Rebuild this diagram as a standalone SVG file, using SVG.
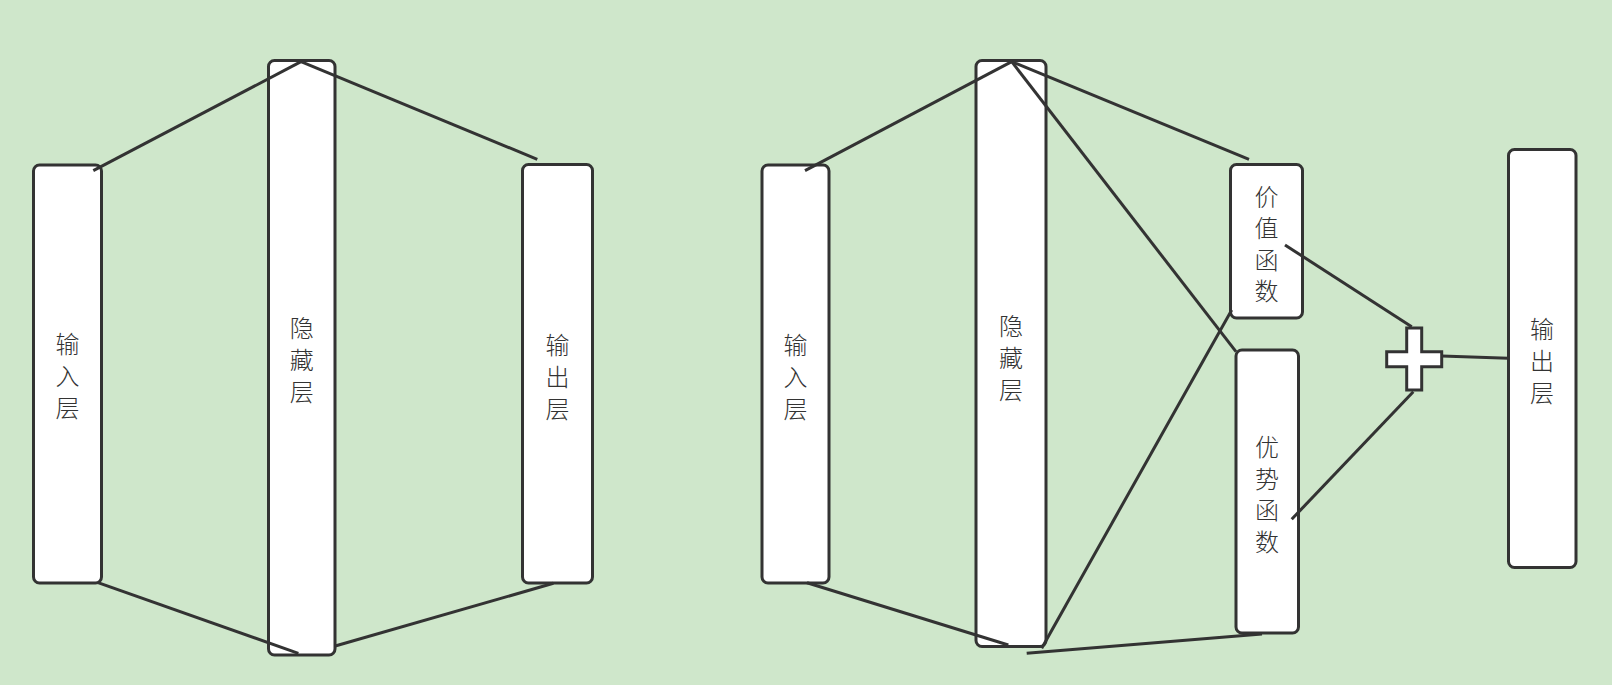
<svg xmlns="http://www.w3.org/2000/svg" width="1612" height="685" viewBox="0 0 1612 685">
<style>
.box{fill:#ffffff;stroke:#333333;stroke-width:3}
.lbl{font-family:"Noto Sans CJK SC","Noto Sans",sans-serif;font-size:24px;font-weight:300;fill:#333333;text-anchor:middle;dominant-baseline:central}
.ln{stroke:#333333;stroke-width:3;fill:none;stroke-linecap:butt}
</style>
<rect x="0" y="0" width="1612" height="685" fill="#cfe7cb"/>
<g id="l-input"><rect class="box" x="33.5" y="165" width="68" height="418" rx="6"/>
<text class="lbl"><tspan x="67.5" y="342">输</tspan><tspan x="67.5" y="374">入</tspan><tspan x="67.5" y="406">层</tspan></text></g>
<g id="l-hidden"><rect class="box" x="268.5" y="60.5" width="66.5" height="594.5" rx="6"/>
<text class="lbl"><tspan x="301.7" y="326">隐</tspan><tspan x="301.7" y="358">藏</tspan><tspan x="301.7" y="390">层</tspan></text></g>
<g id="l-output"><rect class="box" x="522.5" y="164.5" width="70" height="418.5" rx="6"/>
<text class="lbl"><tspan x="557.5" y="343">输</tspan><tspan x="557.5" y="375">出</tspan><tspan x="557.5" y="407">层</tspan></text></g>
<g id="r-input"><rect class="box" x="762" y="165" width="67" height="418" rx="6"/>
<text class="lbl"><tspan x="795.5" y="343">输</tspan><tspan x="795.5" y="375">入</tspan><tspan x="795.5" y="407">层</tspan></text></g>
<g id="r-hidden"><rect class="box" x="976" y="60.5" width="70" height="586" rx="6"/>
<text class="lbl"><tspan x="1011" y="323.5">隐</tspan><tspan x="1011" y="355.5">藏</tspan><tspan x="1011" y="387.5">层</tspan></text></g>
<g id="r-value"><rect class="box" x="1230.5" y="164.5" width="72" height="153.5" rx="6"/>
<text class="lbl"><tspan x="1266.5" y="194.5">价</tspan><tspan x="1266.5" y="226">值</tspan><tspan x="1266.5" y="257.5">函</tspan><tspan x="1266.5" y="289">数</tspan></text></g>
<g id="r-adv"><rect class="box" x="1236" y="350" width="62.5" height="283" rx="6"/>
<text class="lbl"><tspan x="1267" y="445">优</tspan><tspan x="1267" y="476.5">势</tspan><tspan x="1267" y="508">函</tspan><tspan x="1267" y="539.5">数</tspan></text></g>
<g id="r-output"><rect class="box" x="1508.5" y="149.5" width="67.5" height="418" rx="6"/>
<text class="lbl"><tspan x="1542" y="326.5">输</tspan><tspan x="1542" y="358.5">出</tspan><tspan x="1542" y="390.5">层</tspan></text></g>
<g id="r-plus"><polygon class="box" points="1406.7,328 1421.7,328 1421.7,351.7 1441.7,351.7 1441.7,366.7 1421.7,366.7 1421.7,390 1406.7,390 1406.7,366.7 1386.7,366.7 1386.7,351.7 1406.7,351.7"/></g>
<g id="connectors">
<line class="ln" x1="93.3" y1="170.7" x2="301" y2="61.7"/>
<line class="ln" x1="301" y1="61.7" x2="537.3" y2="159.3"/>
<line class="ln" x1="98" y1="582.7" x2="298.4" y2="653.3"/>
<line class="ln" x1="335.2" y1="646" x2="553.4" y2="583.3"/>
<line class="ln" x1="805" y1="170.7" x2="1011.7" y2="61.7"/>
<line class="ln" x1="807" y1="582.7" x2="1008.3" y2="645"/>
<line class="ln" x1="1011.7" y1="61.7" x2="1249" y2="159.3"/>
<line class="ln" x1="1011.7" y1="61.7" x2="1236" y2="351.7"/>
<line class="ln" x1="1041.7" y1="648.3" x2="1231.7" y2="310"/>
<line class="ln" x1="1026.7" y1="653.3" x2="1262" y2="634"/>
<line class="ln" x1="1285" y1="245" x2="1411.7" y2="326.7"/>
<line class="ln" x1="1291.7" y1="519.3" x2="1413.3" y2="391.7"/>
<line class="ln" x1="1441.7" y1="356" x2="1508.3" y2="358.3"/>
</g>
</svg>
